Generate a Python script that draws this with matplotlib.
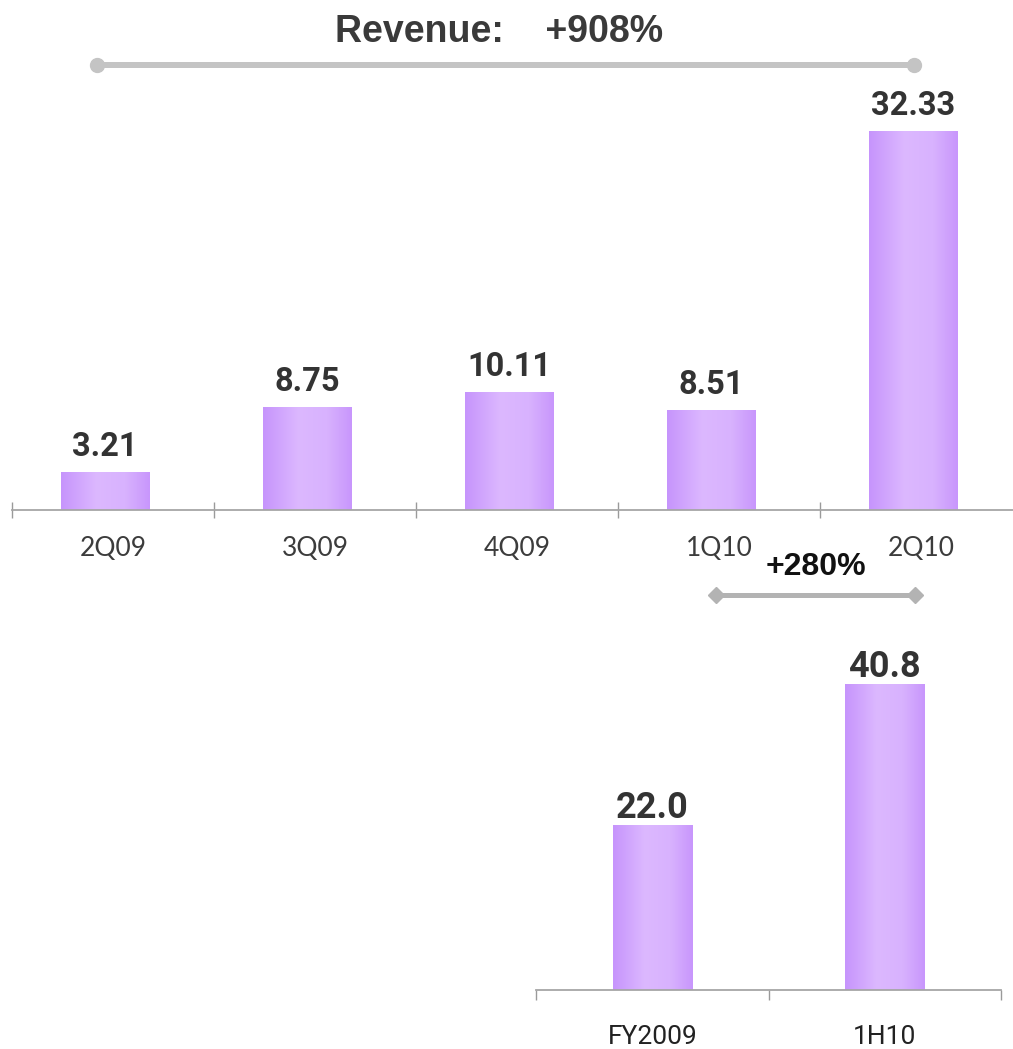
import numpy as np
import matplotlib
matplotlib.use("Agg")
import matplotlib.pyplot as plt
from matplotlib.colors import LinearSegmentedColormap
from matplotlib.lines import Line2D

# Quarterly revenue
quarters = ["2Q09", "3Q09", "4Q09", "1Q10", "2Q10"]
quarter_revenue = [3.21, 8.75, 10.11, 8.51, 32.33]
quarter_labels = ["3.21", "8.75", "10.11", "8.51", "32.33"]

# Period totals
periods = ["FY2009", "1H10"]
period_revenue = [22.0, 40.8]
period_labels = ["22.0", "40.8"]

title_text = "Revenue:    +908%"
growth_text = "+280%"

W, H = 1013, 1049
fig = plt.figure(figsize=(W / 100, H / 100), dpi=100)
fig.patch.set_facecolor("white")

def fx(px):
    return px / W

def fy(py):
    return 1 - py / H

bar_cmap = LinearSegmentedColormap.from_list(
    "bar", [(0.0, "#c694fc"), (0.4, "#dcb8ff"), (0.72, "#d8b2fe"), (1.0, "#c896fc")])
grad = np.linspace(0, 1, 256).reshape(1, -1)

def gradient_bars(ax, bars):
    for b in bars:
        x0, y0 = b.get_x(), b.get_y()
        w, h = b.get_width(), b.get_height()
        b.set_facecolor("none")
        b.set_edgecolor("none")
        im = ax.imshow(grad, cmap=bar_cmap, aspect="auto",
                       extent=(x0, x0 + w, y0, y0 + h), zorder=2)
        im.set_clip_path(b)

def style_axis(ax, tick_dir, tick_len):
    for s in ["left", "right", "top"]:
        ax.spines[s].set_visible(False)
    ax.spines["bottom"].set_color("#a6a6a6")
    ax.spines["bottom"].set_linewidth(1.3)
    ax.set_yticks([])
    ax.tick_params(axis="x", which="major", length=0)
    ax.tick_params(axis="x", which="minor", direction=tick_dir, length=tick_len,
                   width=1.0, color="#9a9a9a")
    ax.set_facecolor("none")

# ---- Quarterly chart ----
px_per_unit = 11.72
ax1 = fig.add_axes([fx(12), fy(510), fx(1013 - 12), 450 / H])
x1 = np.arange(len(quarters))
bars1 = ax1.bar(x1 - 0.04, quarter_revenue, width=0.436, zorder=2)
ax1.set_autoscale_on(False)
gradient_bars(ax1, bars1)
ax1.set_xlim(-0.5, 4.455)
ax1.set_ylim(0, 450 / px_per_unit)
style_axis(ax1, "inout", 11.5)
ax1.set_xticks(x1)
ax1.set_xticks(np.arange(-0.5, 4.0, 1.0), minor=True)
ax1.set_xticklabels(quarters, family=["Lato", "DejaVu Sans"],
                    fontsize=19, color="#3c3c3c")
ax1.tick_params(axis="x", which="major", pad=19)
for xi, v, lab in zip(x1 - 0.04, quarter_revenue, quarter_labels):
    ax1.annotate(lab, (xi, v), xytext=(0, 11.5), textcoords="offset points",
                 ha="center", va="baseline", fontsize=23.5, fontweight="bold",
                 family=["Roboto", "DejaVu Sans"], color="#333333")

# ---- Period chart ----
px_per_unit2 = 7.5
ax2 = fig.add_axes([fx(536), fy(990), fx(1001 - 536), 390 / H])
x2 = np.arange(len(periods))
bars2 = ax2.bar(x2, period_revenue, width=0.34, zorder=2)
ax2.set_autoscale_on(False)
gradient_bars(ax2, bars2)
ax2.set_xlim(-0.5, 1.5)
ax2.set_ylim(0, 390 / px_per_unit2)
style_axis(ax2, "out", 7.5)
ax2.set_xticks(x2)
ax2.set_xticks([-0.5, 0.5, 1.5], minor=True)
ax2.set_xticklabels(periods, family=["Roboto", "DejaVu Sans"],
                    fontsize=19, color="#222222")
ax2.tick_params(axis="x", which="major", pad=25)
for xi, v, lab in zip(x2, period_revenue, period_labels):
    ax2.annotate(lab, (xi, v), xytext=(0, 5), textcoords="offset points",
                 ha="center", va="baseline", fontsize=26, fontweight="bold",
                 family=["Roboto", "DejaVu Sans"], color="#333333")

# ---- Growth brackets and headings ----
fig.text(fx(499), fy(42), title_text, ha="center", va="baseline", fontsize=27,
         fontweight="bold", family=["Liberation Sans", "DejaVu Sans"], color="#3a3a3a")
fig.add_artist(Line2D([fx(97), fx(914)], [fy(65), fy(65)], transform=fig.transFigure,
                      color="#c4c4c4", lw=4.3, marker="o", markersize=10,
                      solid_capstyle="butt"))

fig.text(fx(816), fy(575), growth_text, ha="center", va="baseline", fontsize=23,
         fontweight="bold", family=["Liberation Sans", "DejaVu Sans"], color="#111111")
fig.add_artist(Line2D([fx(716), fx(915)], [fy(595), fy(595)], transform=fig.transFigure,
                      color="#b3b3b3", lw=3.6, marker="D", markersize=8,
                      solid_capstyle="butt"))

fig.savefig("out.png", dpi=100, facecolor="white")
